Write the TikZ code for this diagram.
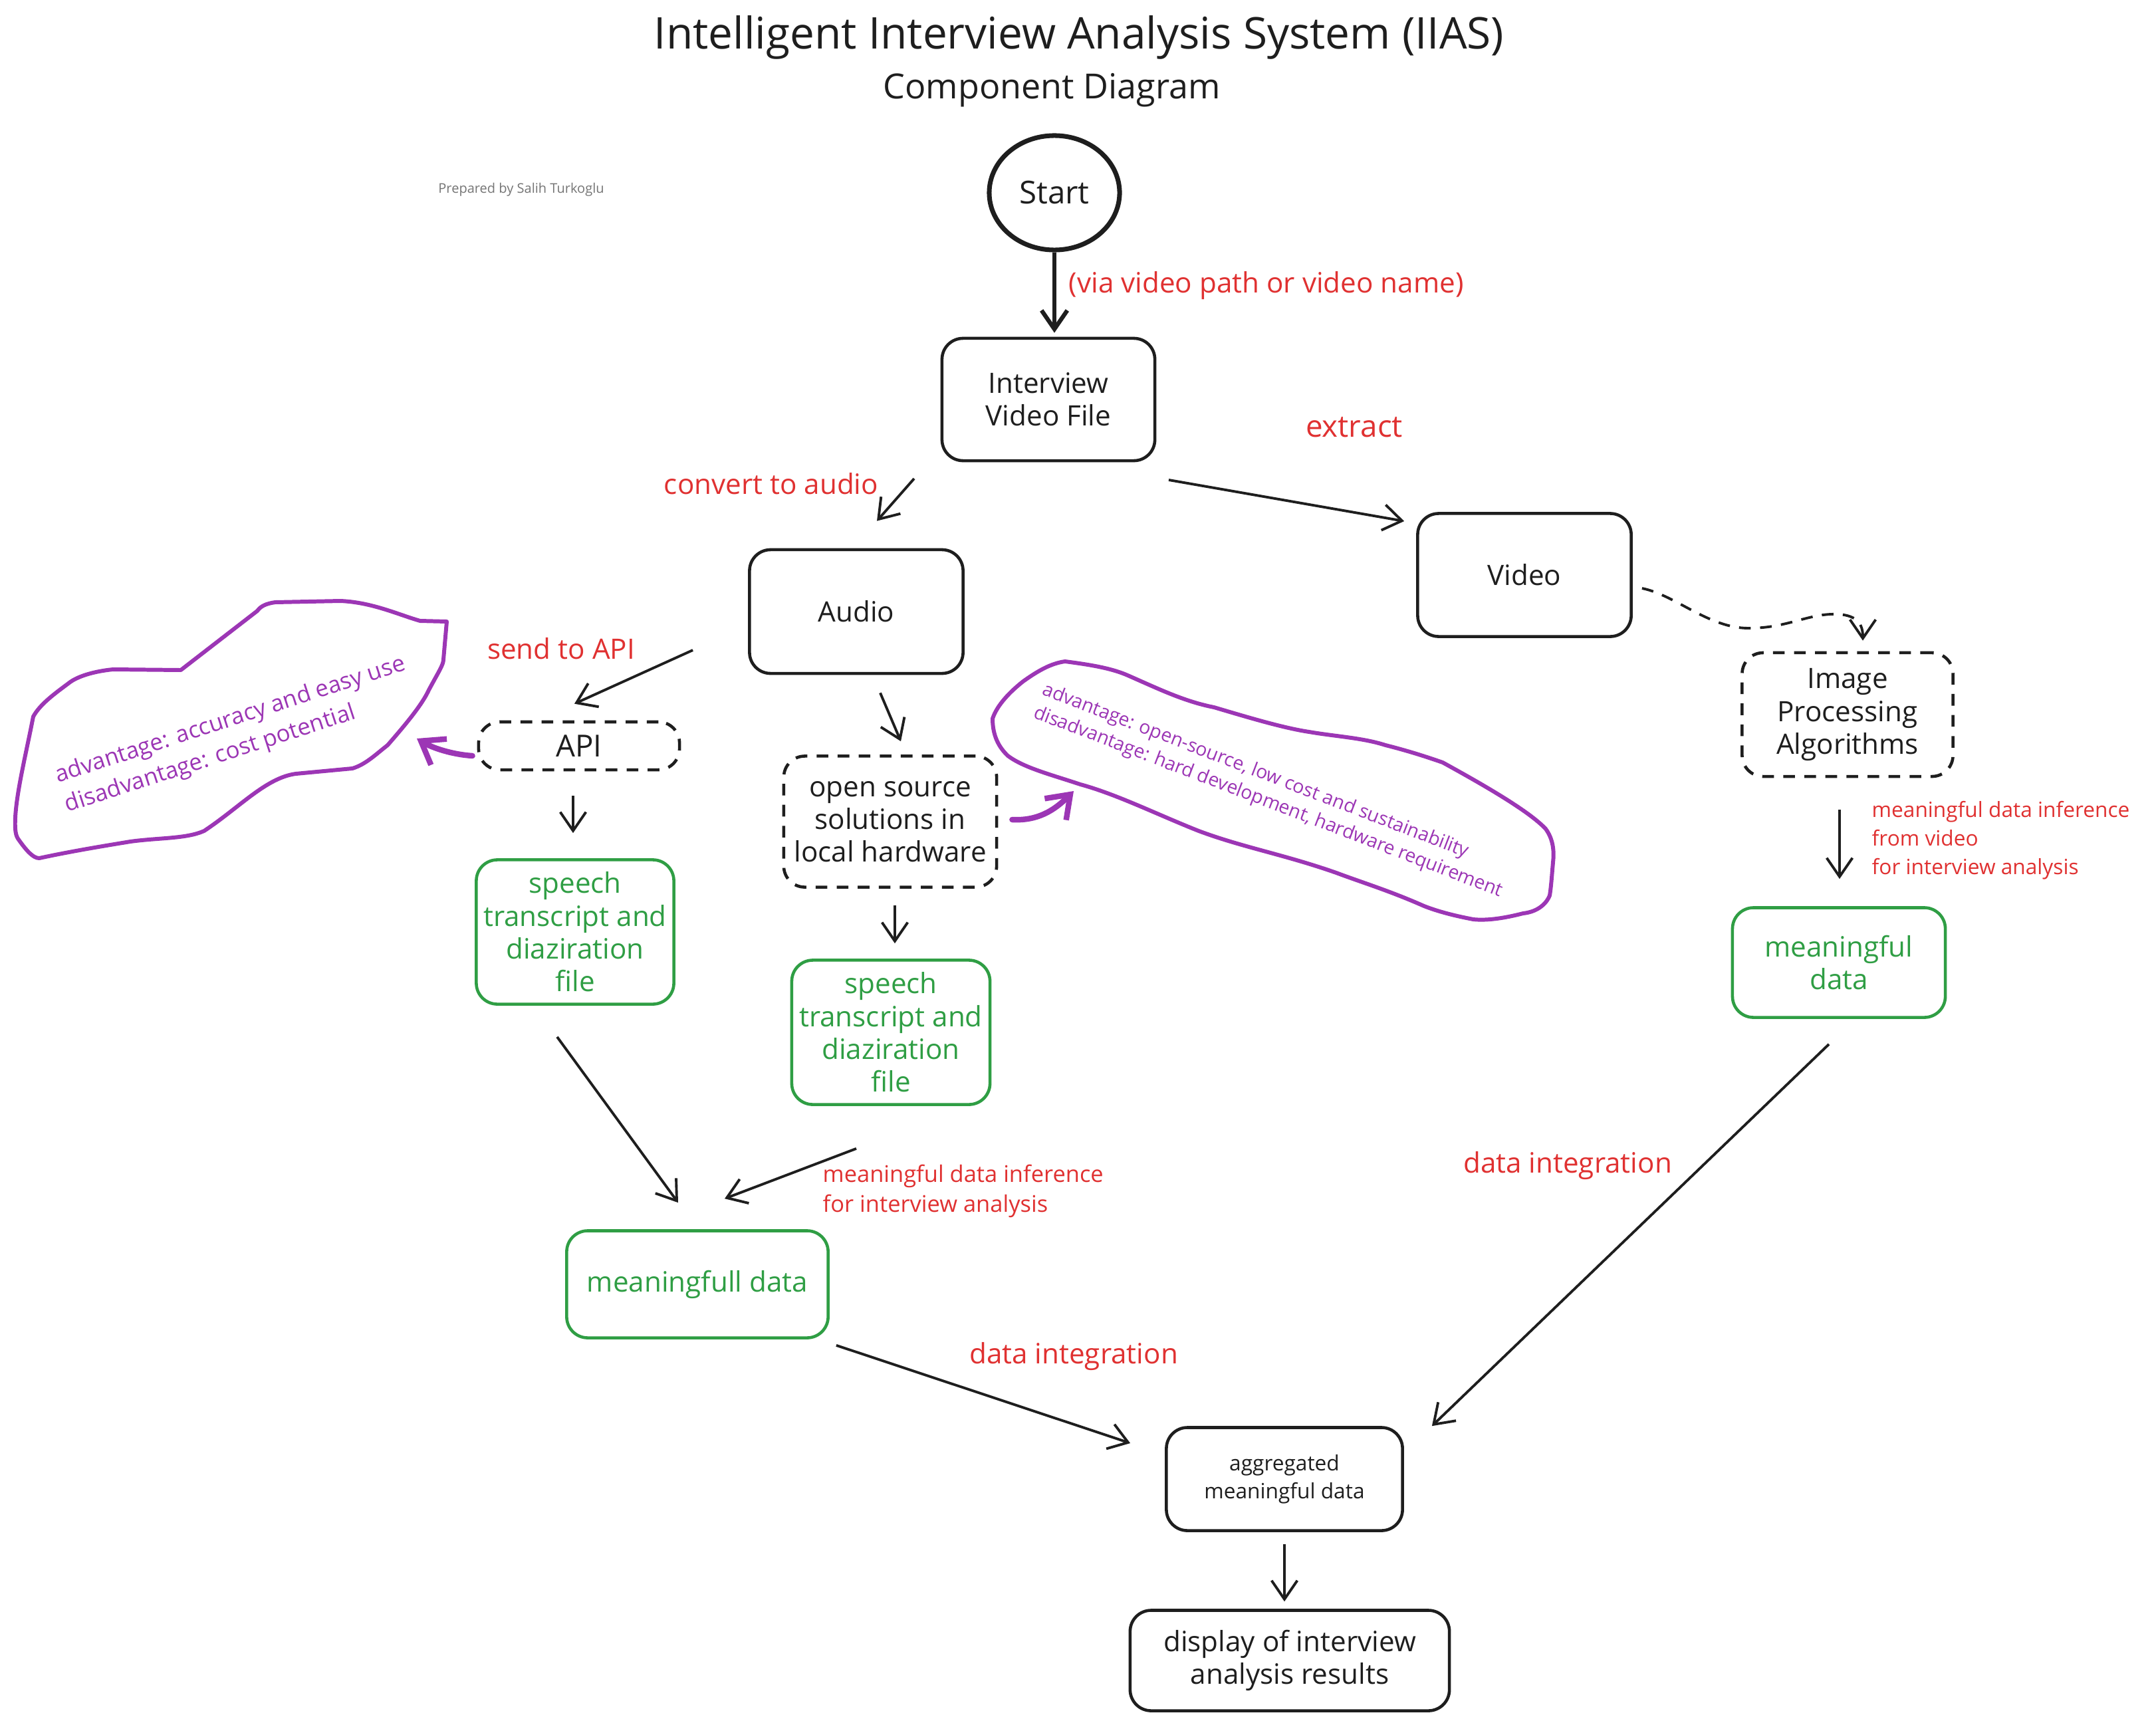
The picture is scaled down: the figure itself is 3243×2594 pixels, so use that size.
\documentclass[tikz,border=0pt]{standalone}
\usepackage{fontspec}
\setmainfont{Open Sans}
\usetikzlibrary{arrows.meta,shapes.geometric,calc}
\definecolor{ink}{HTML}{1E1E1E}
\definecolor{exred}{HTML}{E03131}
\definecolor{exgreen}{HTML}{2F9E44}
\definecolor{expurple}{HTML}{9C36B5}
\definecolor{exgrey}{HTML}{757575}
\tikzset{
  box/.style={draw=ink, line width=1.3pt, rounded corners=9pt, align=center, text=ink,
    font=\fontsize{12}{14}\selectfont, inner sep=0pt},
  dbox/.style={box, dash pattern=on 5pt off 4pt},
  gbox/.style={box, draw=exgreen, text=exgreen},
  lbl/.style={text=exred, font=\fontsize{12}{14}\selectfont, inner sep=0pt},
  slbl/.style={text=exred, font=\fontsize{9}{12.3}\selectfont, inner sep=0pt, align=left},
  arr/.style={draw=ink, line width=1.1pt, -{Straight Barb[length=8pt,width=11pt]}},
  parr/.style={draw=expurple, line width=2.4pt, line cap=round, -{Straight Barb[length=9pt,width=13pt]}},
  cloud/.style={draw=expurple, line width=1.7pt, line join=round},
}
\begin{document}
\begin{tikzpicture}[x=0.01cm,y=-0.01cm]
\fill[white] (0,0) rectangle (3243,2594);
\useasboundingbox (0,0) rectangle (3243,2594);

% titles
\node[text=ink, font=\fontsize{18.7}{20}\selectfont] (title) at (1623,56) {Intelligent Interview Analysis System (IIAS)};
\node[text=ink, font=\fontsize{14.8}{17}\selectfont] (subtitle) at (1582,136) {Component Diagram};
\node[text=exgrey, font=\fontsize{5.7}{7}\selectfont] (prep) at (784,285) {Prepared by Salih Turkoglu};

% nodes
\node[ellipse, draw=ink, line width=2pt, minimum width=1.96cm, minimum height=1.72cm, inner sep=0pt,
  text=ink, font=\fontsize{13.5}{16}\selectfont] (start) at (1586,290) {Start};
\node[box, minimum width=3.2cm, minimum height=1.84cm] (ivf) at (1577,601) {Interview\\Video File};
\node[box, minimum width=3.21cm, minimum height=1.86cm] (audio) at (1288,920) {Audio};
\node[box, minimum width=3.21cm, minimum height=1.85cm] (video) at (2293,865) {Video};
\node[dbox, minimum width=3.17cm, minimum height=1.86cm] (imgproc) at (2779,1075) {Image\\Processing\\Algorithms};
\node[dbox, minimum width=3.02cm, minimum height=0.72cm, font=\fontsize{13}{14}\selectfont] (api) at (871,1122) {API};
\node[dbox, minimum width=3.2cm, minimum height=1.97cm] (oss) at (1339,1236) {open source\\solutions in\\local hardware};
\node[gbox, minimum width=2.97cm, minimum height=2.17cm] (sp1) at (865,1402) {speech\\transcript and\\diaziration\\file};
\node[gbox, minimum width=2.98cm, minimum height=2.17cm] (sp2) at (1340,1553) {speech\\transcript and\\diaziration\\file};
\node[gbox, minimum width=3.93cm, minimum height=1.61cm] (md1) at (1049,1932) {meaningfull data};
\node[gbox, minimum width=3.2cm, minimum height=1.65cm] (md2) at (2766,1448) {meaningful\\data};
\node[box, minimum width=3.55cm, minimum height=1.55cm, font=\fontsize{9}{11.8}\selectfont] (agg) at (1932,2225) {aggregated\\meaningful data};
\node[box, minimum width=4.8cm, minimum height=1.51cm] (disp) at (1940,2498) {display of interview\\analysis results};

% labels
\node[lbl, anchor=west] (lvia) at (1607,430) {(via video path or video name)};
\node[lbl, font=\fontsize{13}{14}\selectfont] (lextract) at (2037,643) {extract};
\node[lbl] (lconvert) at (1160,728) {convert to audio};
\node[lbl] (lsend) at (844,976) {send to API};
\node[slbl, anchor=west] (linfvid) at (2815,1264) {meaningful data inference\\from video\\for interview analysis};
\node[slbl, anchor=west, font=\fontsize{9.8}{12.8}\selectfont] (linfaud) at (1237,1792) {meaningful data inference\\for interview analysis};
\node[lbl] (lint1) at (2358,1754) {data integration};
\node[lbl] (lint2) at (1615,2041) {data integration};

% clouds
\draw[cloud] (672,935) -- (632,934) .. controls (600,925) and (560,906) .. (512,904)
  -- (414,906) .. controls (400,908) and (392,912) .. (387,919)
  -- (272,1008) -- (170,1007) .. controls (140,1010) and (115,1018) .. (103,1028)
  .. controls (80,1045) and (60,1060) .. (50,1078)
  .. controls (40,1130) and (25,1190) .. (23,1230)
  .. controls (22,1250) and (24,1258) .. (28,1263)
  .. controls (40,1280) and (50,1291) .. (59,1291)
  .. controls (110,1280) and (160,1272) .. (196,1266)
  .. controls (240,1260) and (280,1262) .. (307,1250)
  .. controls (360,1215) and (400,1170) .. (445,1164)
  -- (530,1156) .. controls (550,1150) and (565,1135) .. (583,1121)
  .. controls (610,1090) and (635,1060) .. (645,1038)
  .. controls (660,1010) and (667,1000) .. (667,992)
  -- cycle;
\node[text=expurple, font=\fontsize{9.9}{13.2}\selectfont, align=left, rotate=18, inner sep=0pt] (cloudA) at (354,1106)
  {advantage: accuracy and easy use\\disadvantage: cost potential};

\draw[cloud] (1602,995) .. controls (1640,1000) and (1670,1005) .. (1694,1015)
  .. controls (1740,1035) and (1780,1055) .. (1826,1064)
  .. controls (1880,1080) and (1930,1095) .. (1969,1101)
  .. controls (2010,1108) and (2050,1110) .. (2084,1121)
  .. controls (2120,1130) and (2150,1140) .. (2170,1147)
  .. controls (2230,1180) and (2300,1220) .. (2325,1247)
  .. controls (2336,1262) and (2338,1280) .. (2336,1297)
  .. controls (2334,1320) and (2333,1335) .. (2331,1347)
  .. controls (2325,1362) and (2310,1372) .. (2291,1374)
  .. controls (2260,1382) and (2235,1385) .. (2216,1383)
  .. controls (2190,1378) and (2165,1372) .. (2142,1363)
  .. controls (2090,1340) and (2050,1328) .. (2010,1313)
  .. controls (1930,1285) and (1870,1275) .. (1803,1250)
  .. controls (1740,1225) and (1680,1195) .. (1625,1180)
  .. controls (1580,1165) and (1540,1155) .. (1516,1137)
  .. controls (1498,1120) and (1493,1100) .. (1493,1081)
  .. controls (1500,1060) and (1520,1040) .. (1539,1025)
  .. controls (1560,1010) and (1580,998) .. cycle;
\node[text=expurple, font=\fontsize{8.1}{10.5}\selectfont, align=left, rotate=-21, inner sep=0pt] (cloudB) at (1914,1190)
  {advantage: open-source, low cost and sustainability\\disadvantage: hard development, hardware requirement};

\coordinate (tipA) at (627,1111);
\coordinate (tipB) at (1615,1190);

% connectors
\draw[arr, line width=1.8pt] (start.south) -- ($(start.south |- ivf.north)+(0,-6)$);
\draw[arr] ($(ivf)+(-202,119)$) -- ($(audio.north)+(31,-41)$);
\draw[arr] ($(ivf)+(181,121)$) -- ($(video.west)+(-18,-81)$);
\draw[arr, dash pattern=on 5pt off 4pt] ($(video.east)+(14,20)$)
  .. controls (2520,895) and (2570,945) .. (2630,945)
  .. controls (2690,945) and (2720,922) .. (2765,924)
  .. controls (2795,926) and (2802,940) .. ($(imgproc.north)+(23,-16)$);
\draw[arr] ($(audio.west)+(-83,58)$) -- ($(api.north)+(-7,-25)$);
\draw[arr] ($(audio.south)+(36,27)$) -- ($(oss.north)+(16,-20)$);
\draw[parr] ($(api.west)+(-7,15)$) .. controls (680,1135) and (650,1125) .. (tipA);
\draw[parr] ($(oss.east)+(21,-3)$) .. controls (1560,1235) and (1585,1220) .. (tipB);
\draw[arr] ($(api.south)+(-9,37)$) -- ($(sp1.north)+(-3,-38)$);
\draw[arr] ($(oss.south)+(7,25)$) -- ($(sp2.north)+(6,-23)$);
\draw[arr] ($(imgproc.south)+(-12,48)$) -- ($(md2.north)+(1,-41)$);
\draw[arr] ($(sp1.south)+(-27,47)$) -- ($(md1.north)+(-29,-40)$);
\draw[arr] ($(sp2.south)+(-52,64)$) -- ($(md1.north)+(41,-46)$);
\draw[arr] ($(md1.south east)+(10,9)$) -- ($(agg.west)+(-52,-54)$);
\draw[arr] ($(md2.south)+(-15,38)$) -- ($(agg.north east)+(42,0)$);
\draw[arr] ($(agg.south)+(0,18)$) -- ($(disp.north)+(-8,-11)$);
\end{tikzpicture}
\end{document}
